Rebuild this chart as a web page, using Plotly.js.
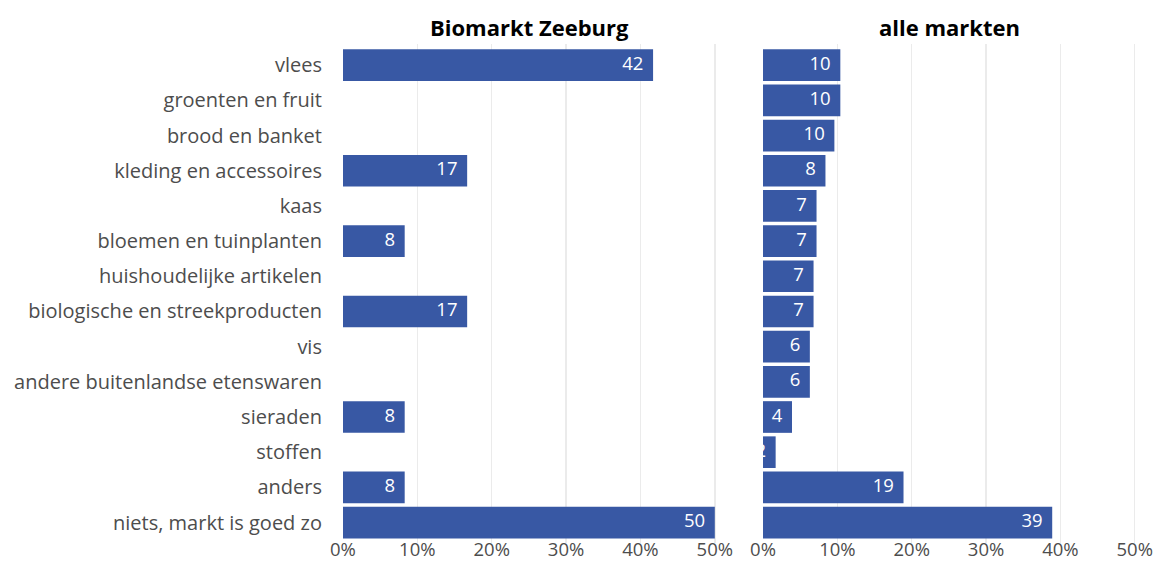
<!DOCTYPE html>
<html>
<head>
<meta charset="utf-8">
<script src="https://cdn.plot.ly/plotly-3.0.1.min.js"></script>
<style>html,body{margin:0;padding:0;background:#fff;}#chart{width:1161px;height:565px;}</style>
</head>
<body>
<div id="chart"></div>
<script>
const categories = [
  "vlees", "groenten en fruit", "brood en banket", "kleding en accessoires", "kaas",
  "bloemen en tuinplanten", "huishoudelijke artikelen", "biologische en streekproducten",
  "vis", "andere buitenlandse etenswaren", "sieraden", "stoffen", "anders", "niets, markt is goed zo"
];
const biomarktZeeburg = [41.7, null, null, 16.7, null, 8.3, null, 16.7, null, null, 8.3, null, 8.3, 50.0];
const alleMarkten = [10.4, 10.4, 9.6, 8.4, 7.2, 7.2, 6.8, 6.8, 6.3, 6.3, 3.9, 1.7, 18.9, 38.9];
const panelTitles = ["Biomarkt Zeeburg", "alle markten"];
const tickVals = [0, 10, 20, 30, 40, 50];
const tickText = ["0%", "10%", "20%", "30%", "40%", "50%"];

const FONT = "'Open Sans', sans-serif";
const BAR = "#3858a4";
const pad = "\u00a0\u00a0";
const lab = arr => arr.map(v => (v == null || v === 0) ? "" : String(Math.round(v)) + pad);

function barTrace(vals, xa, ya) {
  return {
    type: "bar", orientation: "h",
    y: categories, x: vals, xaxis: xa, yaxis: ya,
    marker: {color: BAR},
    hoverinfo: "skip", showlegend: false
  };
}
function labelTrace(vals, xa, ya) {
  return {
    type: "scatter", mode: "text",
    y: categories, x: vals, xaxis: xa, yaxis: ya,
    text: lab(vals), textposition: "middle left", cliponaxis: true,
    textfont: {color: "#ffffff", size: 18.5, family: FONT},
    hoverinfo: "skip", showlegend: false
  };
}

const xbase = {
  range: [0, 50.3], tickvals: tickVals, ticktext: tickText,
  showgrid: true, gridcolor: "#ebebeb", gridwidth: 1.5, zeroline: false,
  showline: false, ticks: "", fixedrange: true, ticklabelstandoff: -6,
  tickfont: {size: 18.5, color: "#4d4d4d", family: FONT}
};
const ybase = {
  type: "category", categoryorder: "array", categoryarray: categories,
  range: [13.58, -0.6], showgrid: false, zeroline: false, showline: false,
  ticks: "", fixedrange: true, domain: [0.039, 0.922]
};

const layout = {
  width: 1161, height: 565,
  margin: {l: 0, r: 0, t: 0, b: 0},
  paper_bgcolor: "#ffffff", plot_bgcolor: "#ffffff",
  bargap: 0.1,
  font: {family: FONT, color: "#4d4d4d"},
  xaxis: Object.assign({}, xbase, {domain: [0.2954, 0.6176], anchor: "y"}),
  xaxis2: Object.assign({}, xbase, {domain: [0.6572, 0.9793], anchor: "y2"}),
  yaxis: Object.assign({}, ybase, {anchor: "x", showticklabels: true, ticklabelstandoff: 20,
    tickfont: {size: 20, color: "#4d4d4d", family: FONT}}),
  yaxis2: Object.assign({}, ybase, {anchor: "x2", showticklabels: false}),
  annotations: [
    {text: "<b>" + panelTitles[0] + "</b>", xref: "x domain", yref: "paper", x: 0.5, y: 1 - 27/565,
     xanchor: "center", yanchor: "middle", showarrow: false, font: {size: 22, color: "#000000", family: FONT}},
    {text: "<b>" + panelTitles[1] + "</b>", xref: "x2 domain", yref: "paper", x: 0.5, y: 1 - 27/565,
     xanchor: "center", yanchor: "middle", showarrow: false, font: {size: 22, color: "#000000", family: FONT}}
  ]
};

Plotly.newPlot("chart", [
  barTrace(biomarktZeeburg, "x", "y"), barTrace(alleMarkten, "x2", "y2"),
  labelTrace(biomarktZeeburg, "x", "y"), labelTrace(alleMarkten, "x2", "y2")
], layout, {displayModeBar: false, staticPlot: true});
</script>
</body>
</html>
